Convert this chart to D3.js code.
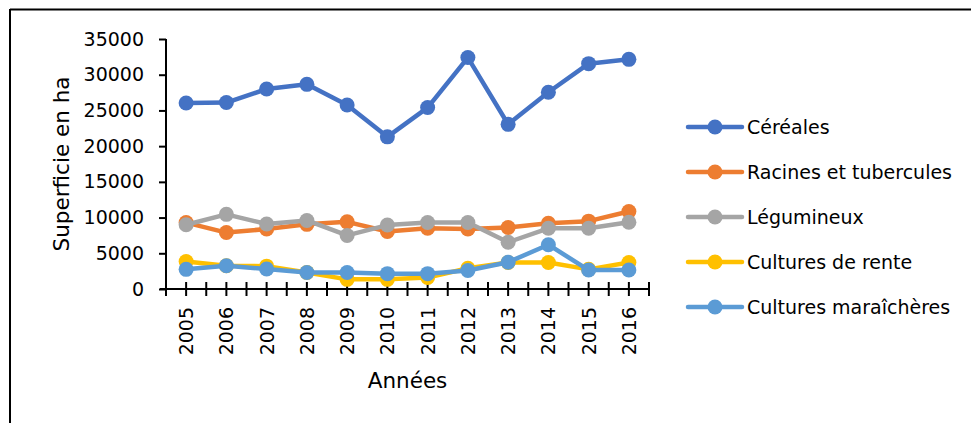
<!DOCTYPE html>
<html>
<head>
<meta charset="utf-8">
<script src="https://cdn.jsdelivr.net/npm/d3@7"></script>
<style>
  body { margin: 0; background: #fff; }
  text { font-family: "DejaVu Sans", sans-serif; fill: #000; }
</style>
</head>
<body>
<div id="chart"></div>
<script>
// Data
var years = ["2005","2006","2007","2008","2009","2010","2011","2012","2013","2014","2015","2016"];
var cereales    = [26050, 26100, 28000, 28650, 25750, 21300, 25400, 32400, 23050, 27550, 31550, 32150];
var racines     = [9300, 7900, 8400, 9050, 9400, 8050, 8500, 8400, 8600, 9200, 9500, 10850];
var legumineux  = [9000, 10450, 9100, 9600, 7500, 8950, 9300, 9300, 6550, 8500, 8500, 9350];
var rente       = [3850, 3250, 3200, 2300, 1350, 1350, 1600, 2900, 3700, 3700, 2750, 3700];
var maraicheres = [2750, 3250, 2800, 2300, 2300, 2150, 2150, 2600, 3750, 6200, 2650, 2650];
var yTicks = [0, 5000, 10000, 15000, 20000, 25000, 30000, 35000];

var series = [
  { name: "Céréales", values: cereales, color: "#4472C4" },
  { name: "Racines et tubercules", values: racines, color: "#ED7D31" },
  { name: "Légumineux", values: legumineux, color: "#A5A5A5" },
  { name: "Cultures de rente", values: rente, color: "#FFC000" },
  { name: "Cultures maraîchères", values: maraicheres, color: "#5B9BD5" }
];

var W = 971, H = 423;
var margin = { top: 39, left: 166, right: 322, bottom: 134 };
var width = W - margin.left - margin.right,
    height = H - margin.top - margin.bottom;
var fs = "19px", titleFs = "21.5px";

var svg = d3.select("#chart").append("svg")
    .attr("width", W)
    .attr("height", H);

// chart area border (only top and left visible)
svg.append("line").attr("x1", 10).attr("x2", W).attr("y1", 9.5).attr("y2", 9.5)
    .attr("stroke", "#000").attr("stroke-width", 2);
svg.append("line").attr("x1", 10).attr("x2", 10).attr("y1", 9).attr("y2", H)
    .attr("stroke", "#000").attr("stroke-width", 2);

var g = svg.append("g")
    .attr("transform", "translate(" + margin.left + "," + margin.top + ")");

// Scales
var x = d3.scaleBand()
    .domain(years)
    .range([0, width]);

var y = d3.scaleLinear()
    .domain([0, 35000])
    .range([height, 0]);

function cx(d, i) { return x(years[i]) + x.bandwidth() / 2; }

// Y axis
var yAxis = d3.axisLeft(y)
    .tickValues(yTicks)
    .tickSize(7)
    .tickPadding(15)
    .tickFormat(d3.format("d"));

g.append("g")
    .attr("class", "y-axis")
    .call(yAxis)
    .call(function(a) {
        a.select(".domain").attr("stroke-width", 2).attr("d", "M0," + height + "V0");
        a.selectAll(".tick line").attr("stroke-width", 2);
        a.selectAll("text").style("font-size", fs);
    });

// X axis with ticks at category centres and boundaries
var halfTicks = d3.range(0, years.length * 2 + 1).map(function(k) { return k * x.bandwidth() / 2; });

var xg = g.append("g")
    .attr("class", "x-axis")
    .attr("transform", "translate(0," + height + ")");

xg.append("line")
    .attr("x1", -6).attr("x2", width)
    .attr("stroke", "#000").attr("stroke-width", 2);

xg.selectAll(".xtick")
    .data(halfTicks)
    .enter().append("line")
    .attr("class", "xtick")
    .attr("x1", function(d) { return d; })
    .attr("x2", function(d) { return d; })
    .attr("y1", -7).attr("y2", 7)
    .attr("stroke", "#000").attr("stroke-width", 2);

xg.selectAll(".xlabel")
    .data(years)
    .enter().append("text")
    .attr("class", "xlabel")
    .attr("transform", function(d) {
        return "translate(" + (x(d) + x.bandwidth() / 2 + 7) + ",18) rotate(-90)";
    })
    .attr("text-anchor", "end")
    .style("font-size", fs)
    .text(function(d) { return d; });

// Axis titles
g.append("text")
    .attr("transform", "translate(-97," + (height / 2) + ") rotate(-90)")
    .attr("text-anchor", "middle")
    .style("font-size", titleFs)
    .text("Superficie en ha");

g.append("text")
    .attr("x", width / 2)
    .attr("y", height + 99)
    .attr("text-anchor", "middle")
    .style("font-size", titleFs)
    .text("Années");

// Lines and markers
var line = d3.line()
    .x(cx)
    .y(function(d) { return y(d); });

var sg = g.selectAll(".series")
    .data(series)
    .enter().append("g")
    .attr("class", "series");

sg.append("path")
    .attr("d", function(s) { return line(s.values); })
    .attr("fill", "none")
    .attr("stroke", function(s) { return s.color; })
    .attr("stroke-width", 4.5)
    .attr("stroke-linejoin", "round");

sg.each(function(s) {
    d3.select(this).selectAll("circle")
        .data(s.values)
        .enter().append("circle")
        .attr("cx", cx)
        .attr("cy", function(d) { return y(d); })
        .attr("r", 7.5)
        .attr("fill", s.color);
});

// Legend
var legend = svg.append("g")
    .attr("transform", "translate(688,127)");

var items = legend.selectAll(".item")
    .data(series)
    .enter().append("g")
    .attr("class", "item")
    .attr("transform", function(d, i) { return "translate(0," + (i * 45) + ")"; });

items.append("line")
    .attr("x1", 0).attr("x2", 54)
    .attr("stroke", function(d) { return d.color; })
    .attr("stroke-width", 4.5)
    .attr("stroke-linecap", "round");

items.append("circle")
    .attr("cx", 27).attr("r", 7.5)
    .attr("fill", function(d) { return d.color; });

items.append("text")
    .attr("x", 59)
    .attr("dy", "0.35em")
    .style("font-size", fs)
    .text(function(d) { return d.name; });
</script>
</body>
</html>
